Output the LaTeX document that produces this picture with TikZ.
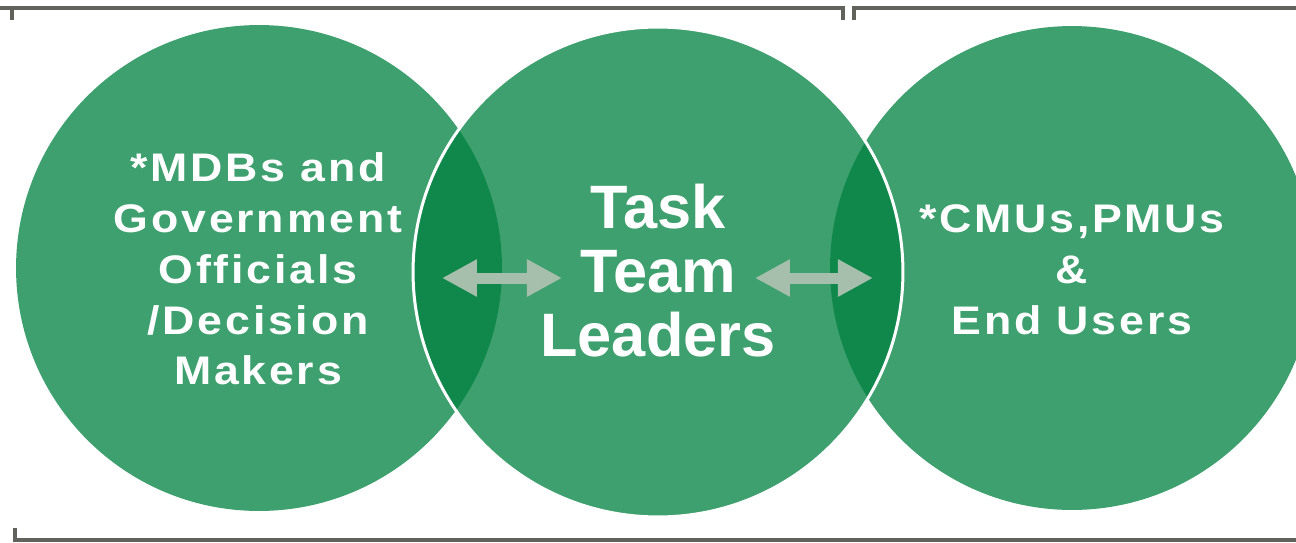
\documentclass[tikz,border=0pt]{standalone}
\usepackage{fontspec}
\setmainfont{Liberation Sans}
\newfontfamily\sidefont[FakeStretch=1.12,LetterSpace=7]{Liberation Sans}
\usetikzlibrary{positioning,arrows.meta}
\definecolor{ballgreen}{RGB}{62,160,110}
\definecolor{lensgreen}{RGB}{16,136,76}
\definecolor{arrowgray}{RGB}{166,190,172}
\definecolor{bracketgray}{RGB}{98,98,92}
\tikzset{
    ball/.style={circle,fill=ballgreen,inner sep=0pt},
    lens/.style={fill=lensgreen},
    sidetext/.style={text=white,align=center,inner sep=0pt,
        font=\sidefont\bfseries\fontsize{22.7}{28.9}\selectfont},
    maintext/.style={text=white,align=center,inner sep=0pt,
        font=\bfseries\fontsize{34.9}{36.6}\selectfont},
    twoway/.style={arrowgray,line width=2.2mm,
        {Triangle[length=7mm,width=7mm]}-{Triangle[length=7mm,width=7mm]}},
    bracket/.style={bracketgray,line width=0.7mm}
}

\begin{document}
\begin{tikzpicture}[x=0.02cm,y=-0.02cm]
        \useasboundingbox (0,0) rectangle (1296,542);
        \node[ball,minimum size=9.72cm] (mdb) at (259,268) {};
        \node[ball,minimum size=9.68cm] (cmu) at (1072,268) {};
        \node[ball,minimum size=9.8cm] (ttl) at (658,272) {};
        \begin{scope}
            \clip (ttl.center) circle (4.9cm);
            \fill[lens] (mdb.center) circle (4.86cm);
            \fill[lens] (cmu.center) circle (4.84cm);
        \end{scope}
        \draw[white,line width=0.6mm] (ttl.center) circle (4.9cm);
        \node[sidetext] (mdbtext) at (258,269) {*MDBs and\\Government\\Officials\\/Decision\\Makers};
        \node[maintext] (ttltext) at (658,270.5) {Task\\Team\\Leaders};
        \node[sidetext] (cmutext) at (1072,270) {*CMUs,PMUs\\\&\\End Users};
        \coordinate (la) at (442,278);
        \coordinate[right=2.4cm of la] (lb);
        \coordinate (ra) at (755,278);
        \coordinate[right=2.36cm of ra] (rb);
        \draw[twoway] (la) -- (lb);
        \draw[twoway] (ra) -- (rb);
        \coordinate (tl) at (12,20);
        \coordinate (tm) at (843,20);
        \coordinate (tr) at (854,20);
        \coordinate (bl) at (15,528);
        \draw[bracket] (tl) |- (0,8) -| (tm);
        \draw[bracket] (tr) |- (1300,8);
        \draw[bracket] (bl) |- (1300,540);
    \end{tikzpicture}
\end{document}
